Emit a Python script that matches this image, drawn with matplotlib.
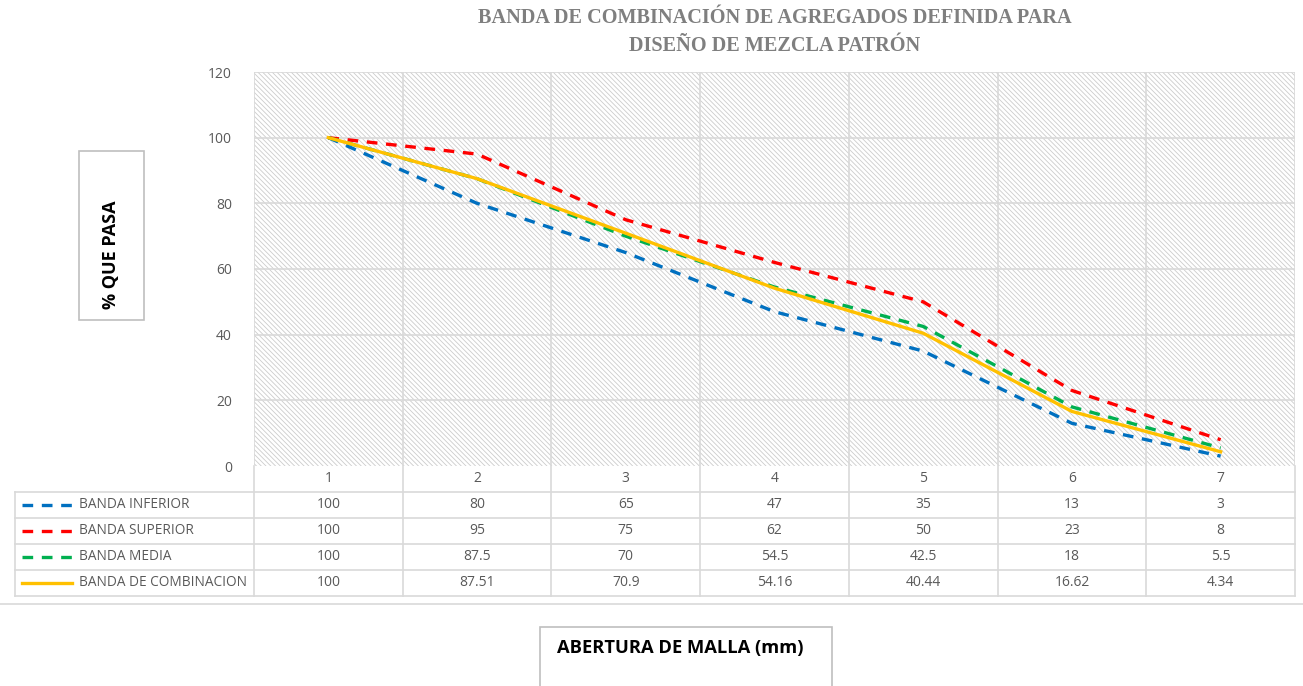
import matplotlib
matplotlib.use('Agg')
import matplotlib.pyplot as plt
from matplotlib.patches import Rectangle
from matplotlib import transforms

categorias = [1, 2, 3, 4, 5, 6, 7]
banda_inferior = [100, 80, 65, 47, 35, 13, 3]
banda_superior = [100, 95, 75, 62, 50, 23, 8]
banda_media = [100, 87.5, 70, 54.5, 42.5, 18, 5.5]
banda_combinacion = [100, 87.51, 70.9, 54.16, 40.44, 16.62, 4.34]
nombres = ['BANDA INFERIOR', 'BANDA SUPERIOR', 'BANDA MEDIA', 'BANDA DE COMBINACION']
textos_tabla = [
    ['100', '80', '65', '47', '35', '13', '3'],
    ['100', '95', '75', '62', '50', '23', '8'],
    ['100', '87.5', '70', '54.5', '42.5', '18', '5.5'],
    ['100', '87.51', '70.9', '54.16', '40.44', '16.62', '4.34'],
]
colores = ['#0070C0', '#FF0000', '#00B050', '#FFC000']
estilos = ['--', '--', '--', '-']

W, H = 1303, 686
plt.rcParams['font.family'] = ['Open Sans', 'DejaVu Sans']
plt.rcParams['hatch.linewidth'] = 0.6
fig = plt.figure(figsize=(W / 100, H / 100), dpi=100)
gris = '#595959'
linea = '#d9d9d9'

x0, x1, ytop, ybot = 254, 1295, 72, 466
ax = fig.add_axes([x0 / W, (H - ybot) / H, (x1 - x0) / W, (ybot - ytop) / H])
ax.set_xlim(0.5, 7.5)
ax.set_ylim(0, 120)

# fondo rayado
ax.patch.set_visible(False)
ax.add_patch(Rectangle((0, 0), 1, 1, transform=ax.transAxes, facecolor='white',
                       edgecolor='#cccccc', hatch='\\' * 7, lw=0, zorder=0))

for yv in range(20, 121, 20):
    ax.axhline(yv, color=linea, lw=1.2, zorder=1)
for xv in [0.5, 1.5, 2.5, 3.5, 4.5, 5.5, 6.5, 7.5]:
    ax.axvline(xv, color=linea, lw=1.2, zorder=1)

series = [banda_inferior, banda_superior, banda_media, banda_combinacion]
for i, s in enumerate(series):
    l, = ax.plot(categorias, s, estilos[i], color=colores[i], lw=2.4, zorder=3)
    if estilos[i] == '--':
        l.set_dashes((3.2, 2.6))

for sp in ax.spines.values():
    sp.set_visible(False)
ax.set_xticks([])
ax.set_yticks(range(0, 121, 20))
ax.tick_params(axis='y', length=0, pad=16, labelsize=10, labelcolor=gris)

# capa en pixeles para tabla y etiquetas
ov = fig.add_axes([0, 0, 1, 1], zorder=-1)
ov.set_xlim(0, W)
ov.set_ylim(H, 0)
ov.axis('off')
bt = transforms.blended_transform_factory(ax.transData, ov.transData)

filas = [466, 492, 518, 544, 570, 596]
for xv in [0.5, 1.5, 2.5, 3.5, 4.5, 5.5, 6.5, 7.5]:
    ov.plot([xv, xv], [466, 596], color=linea, lw=1.2, transform=bt)
for yv in filas[1:]:
    ov.plot([15, x1], [yv, yv], color=linea, lw=1.2)
ov.plot([15, 15], [492, 596], color=linea, lw=1.2)
ov.plot([0, W], [604, 604], color=linea, lw=1.2)

for c in categorias:
    ov.text(c, 479, str(c), transform=bt, ha='center', va='center', fontsize=10, color=gris)
for r in range(4):
    yc = (filas[r + 1] + filas[r + 2]) / 2
    for c, t in zip(categorias, textos_tabla[r]):
        ov.text(c, yc, t, transform=bt, ha='center', va='center', fontsize=10, color=gris)
    ln, = ov.plot([22, 72], [yc, yc], estilos[r], color=colores[r], lw=2.4)
    if estilos[r] == '--':
        ln.set_dashes((3.2, 2.6))
    ov.text(79, yc, nombres[r], ha='left', va='center', fontsize=9.8, color=gris)

# titulo
fig.text(775 / W, 1 - 32 / H, 'BANDA DE COMBINACIÓN DE AGREGADOS DEFINIDA PARA\nDISEÑO DE MEZCLA PATRÓN',
         ha='center', va='center', fontsize=14.6, fontweight='bold', color='#7f7f7f',
         family='Liberation Serif', linespacing=1.5)

# etiquetas de ejes en cajas
ov.add_patch(Rectangle((79, 151), 65, 169, facecolor='white', edgecolor='#bfbfbf', lw=1.2))
ov.text(111, 255, '% QUE PASA', rotation=90, ha='center', va='center', fontsize=13,
        fontweight='bold', color='black')
ov.add_patch(Rectangle((540, 627), 292, 80, facecolor='white', edgecolor='#bfbfbf', lw=1.2, clip_on=False))
ov.text(680, 648, 'ABERTURA DE MALLA (mm)', ha='center', va='center', fontsize=13.2,
        fontweight='bold', color='black')

fig.savefig('out.png', dpi=100)
